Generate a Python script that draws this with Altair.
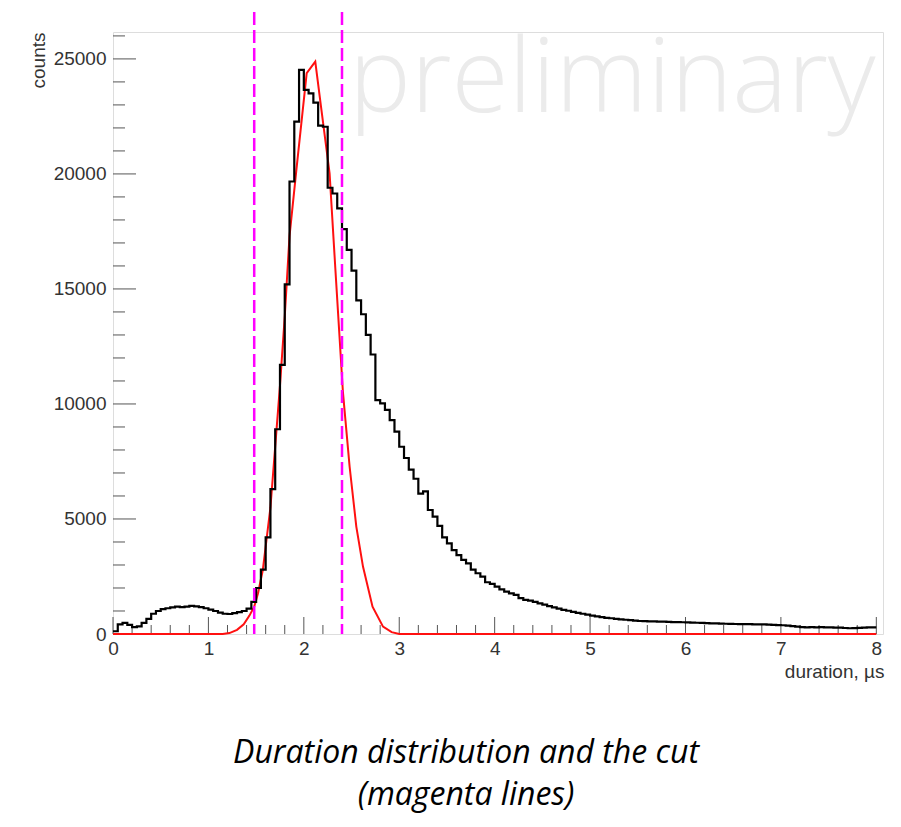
import altair as alt
import pandas as pd

# ---------------- data ----------------
BIN_WIDTH = 0.05
hist_counts = [
    120, 420, 480, 400, 300, 330, 480, 660, 880, 1000,
    1080, 1120, 1160, 1190, 1170, 1190, 1220, 1200, 1170, 1120,
    1060, 1000, 930, 880, 870, 910, 950, 1000, 1100, 1400,
    2000, 2800, 4200, 6300, 8900, 11700, 15200, 19670, 22275, 24520,
    23650, 23500, 23100, 22100, 22050, 19400, 19150, 18500, 17600, 16700,
    15800, 14500, 13900, 13000, 12150, 10170, 10030, 9740, 9300, 8800,
    8140, 7650, 7150, 6750, 6100, 6200, 5390, 5100, 4700, 4200,
    3940, 3650, 3430, 3220, 3070, 2800, 2640, 2490, 2250, 2180,
    2060, 1940, 1840, 1770, 1700, 1560, 1480, 1450, 1400, 1330,
    1280, 1210, 1160, 1100, 1050, 1010, 960, 920, 880, 840,
    800, 770, 730, 705, 685, 660, 640, 620, 600, 580,
    565, 560, 550, 545, 540, 535, 530, 520, 515, 510,
    505, 495, 490, 480, 470, 465, 460, 455, 445, 440,
    435, 430, 430, 425, 420, 420, 415, 410, 400, 390,
    380, 360, 340, 320, 300, 290, 295, 285, 300, 290,
    285, 280, 275, 260, 250, 255, 270, 280, 290, 285,
]

fit_x = [0.0, 1.15, 1.22, 1.30, 1.37, 1.43, 1.48, 1.52, 1.57, 1.65, 1.75, 1.80,
         1.85, 1.92, 2.03, 2.12, 2.18, 2.27, 2.33, 2.37, 2.41, 2.48, 2.55, 2.62,
         2.72, 2.83, 2.92, 3.00, 8.00]
fit_y = [0, 0, 40, 180, 420, 800, 1190, 1770, 2780, 5500, 10800, 13800,
         17300, 20100, 24380, 24880, 22930, 20030, 15900, 13200, 10500, 7270, 4670, 2930,
         1190, 320, 80, 0, 0]

cut_values = [1.48, 2.4]

y_major = [0, 5000, 10000, 15000, 20000, 25000]
y_minor = [v * 1000 for v in range(1, 27) if v % 5 != 0]
x_major = [0, 1, 2, 3, 4, 5, 6, 7, 8]
x_minor = [round(i * 0.2, 2) for i in range(1, 41) if i % 5 != 0]

caption_line1 = "Duration distribution and the cut"
caption_line2 = "(magenta lines)"
watermark_text = "preliminary"

X_DOMAIN = [0, 8.07]
Y_DOMAIN = [0, 26170]
W, H = 770, 602

edges = [round(i * BIN_WIDTH, 2) for i in range(len(hist_counts))]
hist_df = pd.DataFrame({"x": edges + [8.0], "y": hist_counts + [hist_counts[-1]]})
fit_df = pd.DataFrame({"x": fit_x, "y": fit_y})
cut_df = pd.DataFrame({"x": cut_values})

xs = alt.Scale(domain=X_DOMAIN, nice=False, zero=False)
ys = alt.Scale(domain=Y_DOMAIN, nice=False)

FONT = "Liberation Sans"

x_axis = alt.Axis(values=x_major, ticks=False, domain=False, grid=False, labelFlush=False,
                  labelFont=FONT, labelFontSize=19, labelColor="#333333", labelPadding=5,
                  title="duration, µs", titleFont=FONT, titleFontSize=19, titleFontWeight="normal",
                  titleColor="#333333", titleAlign="right",
                  titleX=W + 1, titleY=43, titleBaseline="alphabetic", format="d")
y_axis = alt.Axis(values=y_major, ticks=False, domain=False, grid=False, labelFlush=False,
                  labelFont=FONT, labelFontSize=19, labelColor="#333333", labelPadding=7,
                  title="counts", titleFont=FONT, titleFontSize=19, titleFontWeight="normal",
                  titleColor="#333333", titleAngle=-90, titleAlign="right",
                  titleX=-69, titleY=0, titleBaseline="alphabetic", format="d")

def X(field):
    return alt.X(field, scale=xs, axis=x_axis)

def Y(field):
    return alt.Y(field, scale=ys, axis=y_axis)

watermark = alt.Chart(pd.DataFrame({"t": [watermark_text]})).mark_text(
    font="Open Sans", fontWeight=300, fontSize=104, color="#ebebeb",
    align="left", baseline="alphabetic"
).encode(text="t:N", x=alt.value(236), y=alt.value(80))

hist = alt.Chart(hist_df).mark_line(
    interpolate="step-after", color="black", strokeWidth=2.2
).encode(x=X("x:Q"), y=Y("y:Q"))

fit = alt.Chart(fit_df).mark_line(color="#ff1010", strokeWidth=2).encode(
    x=X("x:Q"), y=Y("y:Q"))

cuts = alt.Chart(cut_df).mark_rule(
    color="#ff00ff", strokeWidth=2.5, strokeDash=[13, 5], clip=False
).encode(x=X("x:Q"), y=alt.value(-20), y2=alt.value(H))

TICK_COLOR = "#555555"
ymaj = alt.Chart(pd.DataFrame({"v": y_major})).mark_rule(color=TICK_COLOR, strokeWidth=1).encode(
    y=Y("v:Q"), x=alt.value(0), x2=alt.value(23))
ymin = alt.Chart(pd.DataFrame({"v": y_minor})).mark_rule(color=TICK_COLOR, strokeWidth=1).encode(
    y=Y("v:Q"), x=alt.value(0), x2=alt.value(12))
xmaj = alt.Chart(pd.DataFrame({"v": x_major})).mark_rule(color=TICK_COLOR, strokeWidth=1).encode(
    x=X("v:Q"), y=alt.value(H - 17), y2=alt.value(H))
xmin = alt.Chart(pd.DataFrame({"v": x_minor})).mark_rule(color=TICK_COLOR, strokeWidth=1).encode(
    x=X("v:Q"), y=alt.value(H - 9), y2=alt.value(H))

def caption(text, ypix):
    return alt.Chart(pd.DataFrame({"t": [text]})).mark_text(
        font="Open Sans", fontStyle="italic", fontSize=32, color="black",
        align="center", baseline="alphabetic"
    ).encode(text="t:N", x=alt.value(353), y=alt.value(ypix))

cap1 = caption(caption_line1, 731)
cap2 = caption(caption_line2, 773)

chart = alt.layer(watermark, ymaj, ymin, xmaj, xmin, fit, hist, cuts, cap1, cap2).properties(
    width=W, height=H,
    autosize=alt.AutoSizeParams(type="none"),
    padding={"left": 105, "top": 24, "right": 10, "bottom": 180},
).configure_view(stroke="#555555", strokeWidth=1.2).configure(background="white")

chart.save("out.html", embed_options={"renderer": "svg", "actions": False})
